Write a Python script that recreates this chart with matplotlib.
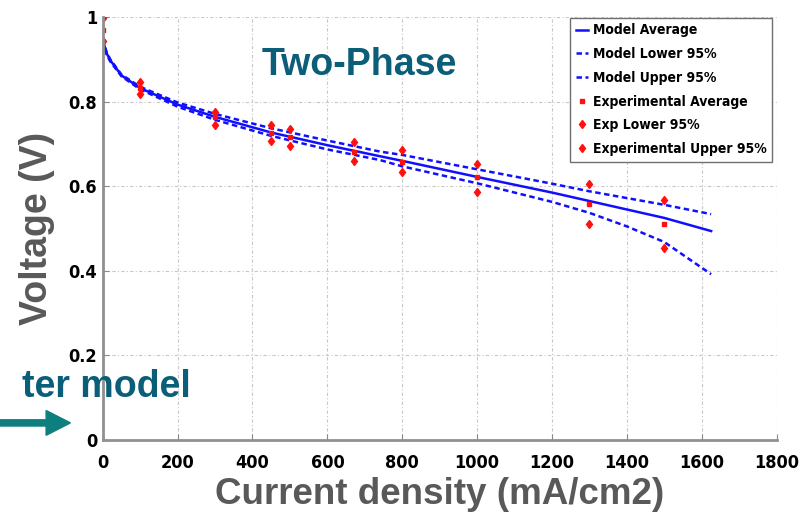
import matplotlib
matplotlib.use('Agg')
import matplotlib.pyplot as plt

# model curves (current density mA/cm2 -> voltage V)
model_x = [0, 10, 20, 50, 100, 200, 300, 450, 600, 740, 800, 1000, 1200, 1300, 1400, 1500, 1625]
model_avg = [0.946, 0.915, 0.898, 0.862, 0.832, 0.793, 0.764, 0.727, 0.697, 0.671, 0.660, 0.622,
             0.585, 0.565, 0.545, 0.525, 0.494]
model_upper = [0.948, 0.918, 0.900, 0.864, 0.835, 0.798, 0.771, 0.737, 0.708, 0.682, 0.674, 0.640,
               0.606, 0.588, 0.572, 0.556, 0.534]
model_lower = [0.944, 0.912, 0.895, 0.860, 0.829, 0.788, 0.757, 0.719, 0.687, 0.662, 0.647, 0.607,
               0.563, 0.537, 0.505, 0.468, 0.392]

# experimental measurements
exp_x = [0, 100, 300, 450, 500, 670, 800, 1000, 1300, 1500]
exp_avg = [0.969, 0.832, 0.764, 0.726, 0.716, 0.681, 0.657, 0.622, 0.558, 0.511]
exp_lower = [0.943, 0.818, 0.745, 0.707, 0.695, 0.660, 0.634, 0.586, 0.511, 0.454]
exp_upper = [0.998, 0.846, 0.775, 0.745, 0.735, 0.705, 0.686, 0.652, 0.605, 0.567]

x_ticks = [0, 200, 400, 600, 800, 1000, 1200, 1400, 1600, 1800]
y_ticks = [0, 0.2, 0.4, 0.6, 0.8, 1.0]
y_ticklabels = ['0', '0.2', '0.4', '0.6', '0.8', '1']

LABEL_FONT = ['Liberation Sans', 'DejaVu Sans']
TEAL = '#0a5e78'

fig = plt.figure(figsize=(8.09, 5.17), dpi=100)
ax = fig.add_axes([0.127, 0.149, 0.833, 0.818])

dash = (0, (2.2, 1.4))
ax.plot(model_x, model_avg, color='#1010ff', lw=1.8, label='Model Average')
ax.plot(model_x, model_lower, color='#1010ff', lw=1.8, ls=dash, label='Model Lower 95%')
ax.plot(model_x, model_upper, color='#1010ff', lw=1.8, ls=dash, label='Model Upper 95%')
ax.plot(exp_x, exp_avg, ls='none', marker='s', ms=3.5, color='#ff1010', label='Experimental Average')
ax.plot(exp_x, exp_lower, ls='none', marker='d', ms=4.5, color='#ff1010', label='Exp Lower 95%')
ax.plot(exp_x, exp_upper, ls='none', marker='d', ms=4.5, color='#ff1010', label='Experimental Upper 95%')

ax.set_xlim(0, 1800)
ax.set_ylim(0, 1)
ax.set_xticks(x_ticks)
ax.set_yticks(y_ticks)
ax.set_yticklabels(y_ticklabels)
for lbl in ax.get_xticklabels() + ax.get_yticklabels():
    lbl.set_family('DejaVu Sans')
    lbl.set_stretch('condensed')
    lbl.set_fontweight('bold')
    lbl.set_fontsize(13)
ax.tick_params(direction='in', length=4, color='#888888', pad=4)
ax.tick_params(axis='x', pad=10)
ax.grid(True, color='#c8c8c8', ls=(0, (3, 2, 1, 2)), lw=0.8)

for side in ('top', 'right'):
    ax.spines[side].set_visible(False)
for side in ('left', 'bottom'):
    ax.spines[side].set_color('#909090')
    ax.spines[side].set_linewidth(2)

ax.set_xlabel('Current density (mA/cm2)', family=LABEL_FONT, fontweight='bold',
              fontsize=26.5, color='#595959', labelpad=4)
ax.set_ylabel('Voltage (V)', family=LABEL_FONT, fontweight='bold',
              fontsize=27, color='#595959', labelpad=10)

leg = ax.legend(loc='upper right', bbox_to_anchor=(0.993, 0.998), fancybox=False,
                framealpha=1, edgecolor='#707070', handlelength=0.9, handletextpad=0.3,
                labelspacing=0.7, borderpad=0.4, borderaxespad=0,
                prop={'family': 'DejaVu Sans', 'stretch': 'condensed', 'weight': 'bold', 'size': 10})
leg.get_frame().set_linewidth(1.0)

ax.text(0.38, 0.887, 'Two-Phase', transform=ax.transAxes, ha='center', va='center',
        family=LABEL_FONT, fontweight='bold', fontsize=27, color=TEAL)

fig.text(0.236, 0.252, 'ter model', ha='right', va='center', family=LABEL_FONT,
         fontweight='bold', fontsize=27, color=TEAL)
fig.add_artist(matplotlib.patches.FancyArrow(
    -0.01, 0.182, 0.097, 0, width=0.012, head_width=0.048, head_length=0.03,
    length_includes_head=True, color='#0e7f7f', transform=fig.transFigure))

fig.savefig('out.png', dpi=100)
